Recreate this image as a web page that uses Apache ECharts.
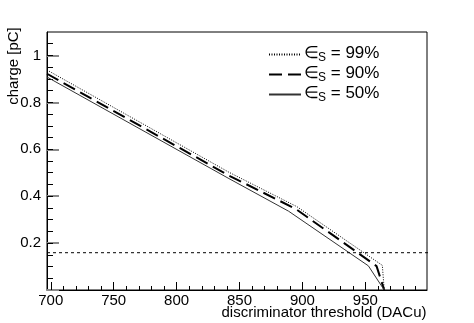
<!DOCTYPE html>
<html>
<head>
<meta charset="utf-8">
<script src="https://cdn.jsdelivr.net/npm/echarts@6/dist/echarts.min.js"></script>
<style>
html,body{margin:0;padding:0;background:#fff;}
#c{width:474px;height:323px;}
</style>
</head>
<body>
<div id="c"></div>
<script>
// ---- data ----
var seriesNames = ['99%', '90%', '50%'];
var x99 = [697, 841.6, 895.7, 963.5, 965];
var y99 = [0.938, 0.502, 0.355, 0.105, 0.0];
var x90 = [697, 841.6, 894.6, 958.9, 965];
var y90 = [0.922, 0.488, 0.346, 0.102, 0.0];
var x50 = [697, 841.6, 889.0, 952.4, 965];
var y50 = [0.908, 0.475, 0.336, 0.103, 0.0];
var thresholdX = [697, 1040];
var thresholdY = [0.159, 0.159];
var xMajorTicks = [700, 750, 800, 850, 900, 950];
var xMinorTicks = [700,710,720,730,740,750,760,770,780,790,800,810,820,830,840,850,860,870,880,890,900,910,920,930,940,950,960,970,980,990];
var yMajorTicks = [0, 0.2, 0.4, 0.6, 0.8, 1];
var yLabelTicks = [0.2, 0.4, 0.6, 0.8, 1];
var yMinorTicks = [0.05,0.1,0.15,0.2,0.25,0.3,0.35,0.4,0.45,0.5,0.55,0.6,0.65,0.7,0.75,0.8,0.85,0.9,0.95,1,1.05];

function zip(xs, ys){ return xs.map(function(v,i){return [v, ys[i]];}); }

var FONT = "'Liberation Sans', Arial, Helvetica, sans-serif";
var chart = echarts.init(document.getElementById('c'), null, {renderer:'canvas'});
var option = {
  animation: false,
  backgroundColor: '#fff',
  grid: {left: 47, top: 32, right: 47, bottom: 33, show: true, borderColor: '#000', borderWidth: 1, backgroundColor: 'transparent', containLabel: false, outerBoundsMode: 'none'},
  legend: {
    left: 263, top: 40, orient: 'vertical', itemWidth: 32, itemHeight: 12, itemGap: 1,
    data: seriesNames,
    itemStyle: {opacity: 0},
    formatter: function(n){ return '{e|∈}{s|S}{t| = ' + n + '}'; },
    textStyle: {
      fontFamily: FONT, color: '#000',
      rich: {
        e: {fontSize: 17, fontFamily: FONT, color:'#000', lineHeight: 19, verticalAlign: 'top', padding: [0, 0, 0, -2]},
        s: {fontSize: 12, fontFamily: FONT, color:'#000', lineHeight: 19, verticalAlign: 'bottom', padding: [0, 0, 0, -1]},
        t: {fontSize: 17, fontFamily: FONT, color:'#000', lineHeight: 19, verticalAlign: 'top'}
      }
    }
  },
  xAxis: [{
    type: 'value', min: 697, max: 999,
    name: 'discriminator threshold (DACu)', nameLocation: 'middle', nameGap: 15, nameMoveOverlap: false,
    nameTextStyle: {fontFamily: FONT, fontSize: 15, color: '#000', verticalAlign: 'top', padding: [0,0,0,174]},
    axisLine: {show: true, lineStyle: {color: '#000', width: 1}},
    axisTick: {show: true, inside: true, length: 8, customValues: xMajorTicks, lineStyle: {color: '#000'}},
    axisLabel: {show: true, customValues: xMajorTicks, margin: 3, fontFamily: FONT, fontSize: 15, color: '#000'},
    splitLine: {show: false}
  }, {
    type: 'value', min: 697, max: 999, position: 'bottom',
    axisLine: {show: false},
    axisTick: {show: true, inside: true, length: 4, customValues: xMinorTicks, lineStyle: {color: '#000'}},
    axisLabel: {show: false},
    splitLine: {show: false}
  }],
  yAxis: [{
    type: 'value', min: 0, max: 1.1,
    name: 'charge [pC]', nameLocation: 'middle', nameGap: 26, nameMoveOverlap: false,
    nameTextStyle: {fontFamily: FONT, fontSize: 15, color: '#000', padding: [0,0,0,190]},
    axisLine: {show: true, lineStyle: {color: '#000', width: 1}},
    axisTick: {show: true, inside: true, length: 12, customValues: yMajorTicks, lineStyle: {color: '#888', width: 2}},
    axisLabel: {show: true, customValues: yLabelTicks, margin: 6, fontFamily: FONT, fontSize: 15, color: '#000'},
    splitLine: {show: false}
  }, {
    type: 'value', min: 0, max: 1.1, position: 'left',
    axisLine: {show: false},
    axisTick: {show: true, inside: true, length: 6, customValues: yMinorTicks, lineStyle: {color: '#000'}},
    axisLabel: {show: false},
    splitLine: {show: false}
  }],
  series: [{
    name: '99%', type: 'line', data: zip(x99, y99), symbol: 'none', color: '#000',
    lineStyle: {color: '#000', width: 1, type: [1, 1.5]}
  }, {
    name: '90%', type: 'line', data: zip(x90, y90), symbol: 'none', color: '#000',
    lineStyle: {color: '#000', width: 2, type: [13, 6]}
  }, {
    name: '50%', type: 'line', data: zip(x50, y50), symbol: 'none', color: '#333',
    lineStyle: {color: '#333', width: 1, type: 'solid'}
  }, {
    name: 'threshold', type: 'line', data: zip(thresholdX, thresholdY), symbol: 'none', clip: false, silent: true,
    lineStyle: {color: '#000', width: 1, type: [3, 3]}
  }]
};
chart.setOption(option);
</script>
</body>
</html>
